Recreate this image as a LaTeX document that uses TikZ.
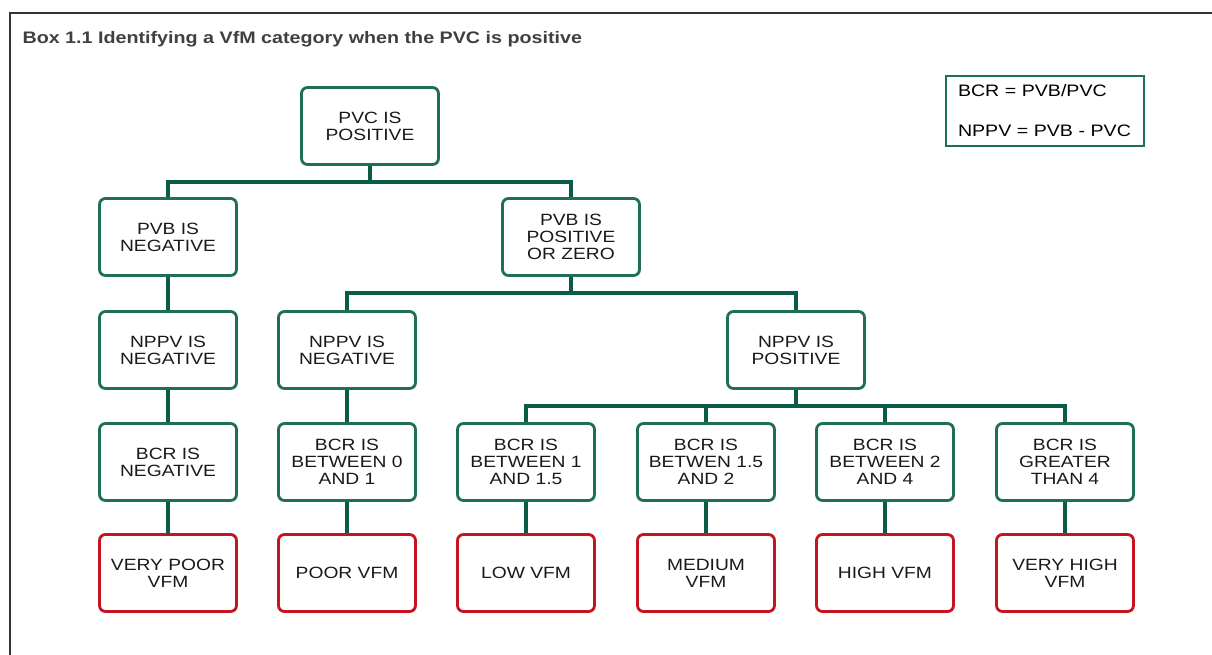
\documentclass[tikz,border=0pt]{standalone}
\usepackage{fontspec}
\setmainfont{Liberation Sans}[FakeStretch=1.18]
\definecolor{boxgreen}{HTML}{1F6E57}
\definecolor{linkgreen}{HTML}{0B5C46}
\definecolor{vfmred}{HTML}{C41420}
\definecolor{titlegray}{HTML}{404040}
\tikzset{
  cond/.style={draw=boxgreen, line width=2.8pt, rounded corners=6pt,
    minimum width=137pt, minimum height=77pt, align=center,
    font=\fontsize{16.3}{17}\selectfont, text=black!90},
  result/.style={cond, draw=vfmred},
  link/.style={draw=linkgreen, line width=3.6pt}
}
\begin{document}
\begin{tikzpicture}[x=1pt, y=-1pt]
  \useasboundingbox (0,0) rectangle (1212,655);
  \draw[titlegray!80!black, line width=1.4pt] (10,655) -- (10,13) -- (1212,13);
  \node[anchor=west, font=\bfseries\fontsize{16.7}{18}\selectfont, text=titlegray] (title) at (19,39)
    {Box 1.1 Identifying a VfM category when the PVC is positive};
  \node[draw=boxgreen, line width=1.2pt, minimum width=198pt, minimum height=70pt,
    align=left, font=\fontsize{16.6}{20}\selectfont, text width=174pt] (legend) at (1045,111)
    {BCR = PVB/PVC\\[20pt]NPPV = PVB - PVC};
  \draw
    (370,126) node[cond] (pvc) {PVC IS\\POSITIVE}
    (168,237) node[cond] (pvbneg) {PVB IS\\NEGATIVE}
    (571,237) node[cond] (pvbpos) {PVB IS\\POSITIVE\\OR ZERO}
    (168,350) node[cond] (nppvnega) {NPPV IS\\NEGATIVE}
    (347,350) node[cond] (nppvnegb) {NPPV IS\\NEGATIVE}
    (796,350) node[cond] (nppvpos) {NPPV IS\\POSITIVE}
    (168,462) node[cond] (bcrneg) {BCR IS\\NEGATIVE}
    (347,462) node[cond] (bcra) {BCR IS\\BETWEEN 0\\AND 1}
    (526,462) node[cond] (bcrb) {BCR IS\\BETWEEN 1\\AND 1.5}
    (706,462) node[cond] (bcrc) {BCR IS\\BETWEN 1.5\\AND 2}
    (885,462) node[cond] (bcrd) {BCR IS\\BETWEEN 2\\AND 4}
    (1065,462) node[cond] (bcre) {BCR IS\\GREATER\\THAN 4}
    (168,573) node[result] (verypoor) {VERY POOR\\VFM}
    (347,573) node[result] (poor) {POOR VFM}
    (526,573) node[result] (low) {LOW VFM}
    (706,573) node[result] (medium) {MEDIUM\\VFM}
    (885,573) node[result] (high) {HIGH VFM}
    (1065,573) node[result] (veryhigh) {VERY HIGH\\VFM};
  \begin{scope}[link]
    \draw (pvc.south) -- ++(0,16) -| (pvbneg.north);
    \draw (pvc.south) -- ++(0,16) -| (pvbpos.north);
    \draw (pvbneg) -- (nppvnega);
    \draw (pvbpos.south) -- ++(0,16) -| (nppvnegb.north);
    \draw (pvbpos.south) -- ++(0,16) -| (nppvpos.north);
    \draw (nppvnega) -- (bcrneg);
    \draw (nppvnegb) -- (bcra);
    \draw (nppvpos.south) -- ++(0,16) -| (bcrb.north);
    \draw (nppvpos.south) -- ++(0,16) -| (bcrc.north);
    \draw (nppvpos.south) -- ++(0,16) -| (bcrd.north);
    \draw (nppvpos.south) -- ++(0,16) -| (bcre.north);
    \draw (bcrneg) -- (verypoor);
    \draw (bcra) -- (poor);
    \draw (bcrb) -- (low);
    \draw (bcrc) -- (medium);
    \draw (bcrd) -- (high);
    \draw (bcre) -- (veryhigh);
  \end{scope}
\end{tikzpicture}
\end{document}
